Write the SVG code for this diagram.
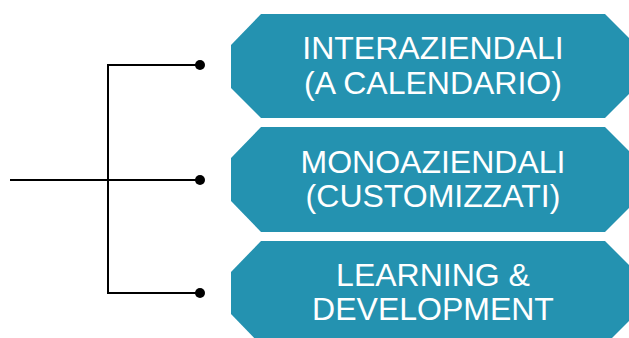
<svg xmlns="http://www.w3.org/2000/svg" width="629" height="338" viewBox="0 0 629 338">
  <style>
    .box { fill: #2492B0; }
    .lbl { fill: #FFFFFF; font-family: "Liberation Sans", Arial, sans-serif; font-size: 32px; text-anchor: middle; }
    .wire { fill: none; stroke: #000000; stroke-width: 2; }
    .dot { fill: #000000; }
  </style>
  <rect width="629" height="338" fill="#FFFFFF"/>
  <g id="connectors">
    <path class="wire" d="M10,180 H200"/>
    <path class="wire" d="M200,65 H108 V293 H200"/>
    <circle class="dot" cx="200" cy="65" r="5"/>
    <circle class="dot" cx="200" cy="180" r="5"/>
    <circle class="dot" cx="200" cy="293" r="5"/>
  </g>
  <g id="node-interaziendali">
    <polygon class="box" points="261,14 605,14 636,45 636,87 605,118 261,118 231,88 231,45"/>
    <text class="lbl" x="433" y="59">INTERAZIENDALI</text>
    <text class="lbl" x="433" y="94">(A CALENDARIO)</text>
  </g>
  <g id="node-monoaziendali">
    <polygon class="box" points="261,127 605,127 636,158 636,201 605,232 261,232 231,201 231,158"/>
    <text class="lbl" x="433" y="173">MONOAZIENDALI</text>
    <text class="lbl" x="433" y="207">(CUSTOMIZZATI)</text>
  </g>
  <g id="node-learning">
    <polygon class="box" points="261,241 605,241 636,272 636,314 605,345 261,345 231,314 231,272"/>
    <text class="lbl" x="433" y="286">LEARNING &amp;</text>
    <text class="lbl" x="433" y="320">DEVELOPMENT</text>
  </g>
</svg>
